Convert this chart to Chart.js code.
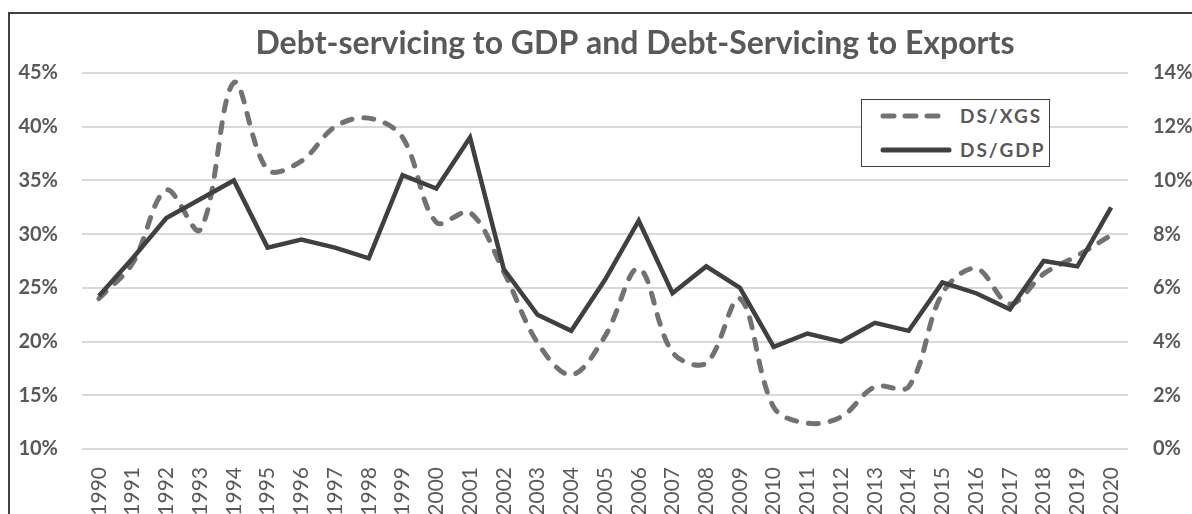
<!DOCTYPE html>
<html>
<head>
<meta charset="utf-8">
<script src="https://cdn.jsdelivr.net/npm/chart.js@4.4.1/dist/chart.umd.min.js"></script>
<style>
  html, body { margin: 0; padding: 0; background: #fff; overflow: hidden; }
  #wrap { position: relative; width: 1192px; height: 514px; overflow: hidden; }
  #frame { position: absolute; left: 8px; top: 12px; width: 1300px; height: 600px; border: 2px solid #404040; box-sizing: border-box; }
  #cv { position: absolute; left: 0; top: 0; }
  #legend { position: absolute; left: 861px; top: 99px; width: 189px; height: 68px; box-sizing: border-box;
            border: 1.5px solid #404040; background: #fff; font-family: Lato, sans-serif; }
  #legend svg { position: absolute; left: 18px; }
  #legend span { position: absolute; left: 98px; font-weight: bold; font-size: 19px; line-height: 20px;
                 letter-spacing: 2px; color: #595959; white-space: nowrap; }
</style>
</head>
<body>
<div id="wrap">
  <div id="frame"></div>
  <canvas id="cv" width="1192" height="530" style="width:1192px;height:530px"></canvas>
  <div id="legend"></div>
</div>
<script>
// categories
var years = ["1990","1991","1992","1993","1994","1995","1996","1997","1998","1999",
             "2000","2001","2002","2003","2004","2005","2006","2007","2008","2009",
             "2010","2011","2012","2013","2014","2015","2016","2017","2018","2019","2020"];

// debt service to exports of goods & services (left axis, %)
var ds_xgs = [24.0, 27.3, 34.1, 30.4, 44.1, 36.0, 36.8, 40.0, 40.8, 39.0,
              31.1, 32.0, 26.5, 19.9, 16.9, 20.5, 26.8, 19.0, 18.0, 24.0,
              13.9, 12.4, 13.0, 15.8, 15.8, 24.5, 26.8, 23.5, 26.3, 28.0, 29.9];

// debt service to GDP (right axis, %)
var ds_gdp = [5.7, 7.1, 8.6, 9.3, 10.0, 7.5, 7.8, 7.5, 7.1, 10.2,
              9.7, 11.6, 6.7, 5.0, 4.4, 6.3, 8.5, 5.8, 6.8, 6.0,
              3.8, 4.3, 4.0, 4.7, 4.4, 6.2, 5.8, 5.2, 7.0, 6.8, 9.0];

var titleText = "Debt-servicing to GDP and Debt-Servicing to Exports";

// title is drawn a bit right of centre, like the excel original
var titlePlugin = {
  id: "offsetTitle",
  afterDraw: function(chart) {
    var ctx = chart.ctx;
    ctx.save();
    ctx.font = "bold 32px Lato";
    ctx.fillStyle = "#595959";
    ctx.textAlign = "center";
    ctx.textBaseline = "alphabetic";
    ctx.fillText(titleText, 635, 54);
    ctx.restore();
  }
};

var chart = new Chart(document.getElementById("cv"), {
  type: "line",
  data: {
    labels: years,
    datasets: [
      {
        label: "DS/XGS",
        data: ds_xgs,
        yAxisID: "y",
        borderColor: "#767171",
        borderWidth: 5,
        borderDash: [10, 12],
        borderCapStyle: "round",
        tension: 0.35,
        pointRadius: 0,
        order: 2
      },
      {
        label: "DS/GDP",
        data: ds_gdp,
        yAxisID: "y1",
        borderColor: "#404040",
        borderWidth: 4.5,
        tension: 0,
        pointRadius: 0,
        order: 1
      }
    ]
  },
  options: {
    responsive: false,
    animation: false,
    layout: { padding: { top: 73, left: 0, right: 0, bottom: 0 } },
    plugins: { legend: { display: false }, title: { display: false }, tooltip: { enabled: false } },
    scales: {
      x: {
        offset: true,
        grid: { display: false, drawTicks: false },
        border: { display: false },
        ticks: {
          autoSkip: false, maxRotation: 90, minRotation: 90, padding: 18,
          color: "#595959", font: { family: "Lato", size: 21 }
        },
        afterFit: function(s) { s.height = 81; }
      },
      y: {
        position: "left",
        min: 10, max: 45,
        grid: { color: "#d9d9d9", lineWidth: 2, drawTicks: false },
        border: { display: false },
        ticks: {
          stepSize: 5, padding: 24, color: "#595959",
          font: { family: "Lato", size: 20, weight: "bold" },
          callback: function(v) { return v + "%"; }
        },
        afterFit: function(s) { s.width = 82; }
      },
      y1: {
        position: "right",
        min: 0, max: 14,
        grid: { display: false, drawTicks: false },
        border: { display: false },
        ticks: {
          stepSize: 2, padding: 25, color: "#595959",
          font: { family: "Lato", size: 20, weight: "bold" },
          callback: function(v) { return v + "%"; }
        },
        afterFit: function(s) { s.width = 64; }
      }
    }
  },
  plugins: [titlePlugin]
});

// html legend built from the datasets
var lg = document.getElementById("legend");
chart.data.datasets.forEach(function(ds, i) {
  var y = i === 0 ? 16 : 50;
  var len = ds.borderDash ? 58 : 66;
  var dash = ds.borderDash ? 'stroke-dasharray="11 11"' : "";
  var svg = '<svg style="top:' + (y - 5) + 'px" width="' + (len + 6) + '" height="10"><line x1="3" y1="5" x2="' + (len + 3) +
    '" y2="5" stroke="' + ds.borderColor + '" stroke-width="5" stroke-linecap="round" ' + dash + '/></svg>';
  lg.insertAdjacentHTML("beforeend", svg + '<span style="top:' + (y - 10) + 'px">' + ds.label + '</span>');
});
</script>
</body>
</html>
